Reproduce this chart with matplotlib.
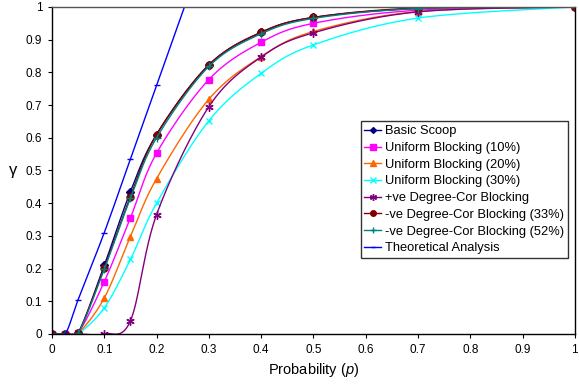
import numpy as np
import matplotlib
matplotlib.use("Agg")
import matplotlib.pyplot as plt

plt.rcParams['font.family'] = ['Liberation Sans', 'DejaVu Sans']
plt.rcParams['mathtext.fontset'] = 'custom'
plt.rcParams['mathtext.it'] = 'Liberation Sans:italic'

# x positions shared by all measured series
p = [0, 0.025, 0.05, 0.1, 0.15, 0.2, 0.3, 0.4, 0.5, 0.7, 1.0]

basic_scoop = [0, 0, 0.003, 0.21, 0.435, 0.61, 0.823, 0.922, 0.968, 0.995, 1.0]
uniform_10 = [0, 0, 0.003, 0.16, 0.355, 0.553, 0.778, 0.892, 0.950, 0.990, 1.0]
uniform_20 = [0, 0, 0.002, 0.11, 0.298, 0.475, 0.718, 0.848, 0.925, 0.986, 1.0]
uniform_30 = [0, 0, 0.001, 0.08, 0.228, 0.400, 0.652, 0.797, 0.884, 0.966, 1.0]
pos_degree = [0, 0, 0, 0, 0.040, 0.365, 0.695, 0.847, 0.921, 0.985, 1.0]
neg_degree_33 = [0, 0, 0.003, 0.203, 0.420, 0.610, 0.823, 0.923, 0.968, 0.997, 1.0]
neg_degree_52 = [0, 0, 0.002, 0.198, 0.415, 0.600, 0.818, 0.918, 0.965, 0.995, 1.0]

# theoretical line, runs off the top of the plot
p_theory = [0, 0.025, 0.05, 0.1, 0.15, 0.2, 0.3]
theory = [0, 0, 0.105, 0.31, 0.535, 0.76, 1.21]


def smooth(xs, ys, n=30):
    # excel style smoothed line (bezier through the points)
    xs = np.asarray(xs, float)
    ys = np.asarray(ys, float)
    px = np.concatenate([[xs[0]], xs, [xs[-1]]])
    py = np.concatenate([[ys[0]], ys, [ys[-1]]])
    out_x, out_y = [], []
    t = np.linspace(0, 1, n)
    for i in range(1, len(px) - 2):
        x0, x1, x2, x3 = px[i - 1], px[i], px[i + 1], px[i + 2]
        y0, y1, y2, y3 = py[i - 1], py[i], py[i + 1], py[i + 2]
        c1x, c1y = x1 + (x2 - x0) / 6, y1 + (y2 - y0) / 6
        c2x, c2y = x2 - (x3 - x1) / 6, y2 - (y3 - y1) / 6
        bx = (1-t)**3*x1 + 3*(1-t)**2*t*c1x + 3*(1-t)*t**2*c2x + t**3*x2
        by = (1-t)**3*y1 + 3*(1-t)**2*t*c1y + 3*(1-t)*t**2*c2y + t**3*y2
        out_x.extend(bx)
        out_y.extend(by)
    return out_x, out_y


series = [
    ("Basic Scoop", p, basic_scoop, "#000080", "D", 4),
    ("Uniform Blocking (10%)", p, uniform_10, "#FF00FF", "s", 5),
    ("Uniform Blocking (20%)", p, uniform_20, "#FF6600", "^", 5),
    ("Uniform Blocking (30%)", p, uniform_30, "#00FFFF", "x", 5),
    ("+ve Degree-Cor Blocking", p, pos_degree, "#800080", (6, 2, 0), 6),
    ("-ve Degree-Cor Blocking (33%)", p, neg_degree_33, "#800000", "o", 5),
    ("-ve Degree-Cor Blocking (52%)", p, neg_degree_52, "#008080", "+", 6),
    ("Theoretical Analysis", p_theory, theory, "#0000FF", "_", 4),
]

fig = plt.figure(figsize=(5.79, 3.87), dpi=100)
ax = fig.add_axes([0.0898, 0.137, 0.903, 0.845])

for name, xs, ys, col, mk, ms in series:
    sx, sy = smooth(xs, ys)
    ax.plot(sx, sy, color=col, lw=1)
    ax.plot(xs, ys, ls="none", marker=mk, ms=ms, color=col, mew=1)
    ax.plot([], [], color=col, lw=1, marker=mk, ms=ms - 1, label=name)

ax.set_xlim(0, 1)
ax.set_ylim(0, 1)
ax.set_xticks(np.arange(0, 1.01, 0.1))
ax.set_yticks(np.arange(0, 1.01, 0.1))
ax.set_xticklabels(["0"] + ["%.1f" % v for v in np.arange(0.1, 0.95, 0.1)] + ["1"])
ax.set_yticklabels(["0"] + ["%.1f" % v for v in np.arange(0.1, 0.95, 0.1)] + ["1"])
ax.tick_params(direction="out", length=3, labelsize=8.5, pad=4)
for s in ax.spines.values():
    s.set_color("black")
    s.set_linewidth(1)
ax.spines["top"].set_color("#555555")

ax.set_xlabel("Probability ($p$)", fontsize=10.5)
ax.set_ylabel("γ", fontsize=12, rotation=0, labelpad=9, va="center")

leg = ax.legend(loc="lower right", bbox_to_anchor=(0.986, 0.232), fontsize=9.3,
                frameon=True, fancybox=False, edgecolor="black",
                handlelength=1.3, handletextpad=0.25, borderpad=0.3,
                labelspacing=0.36, borderaxespad=0)
leg.get_frame().set_linewidth(1)

fig.savefig("out.png", dpi=100)
